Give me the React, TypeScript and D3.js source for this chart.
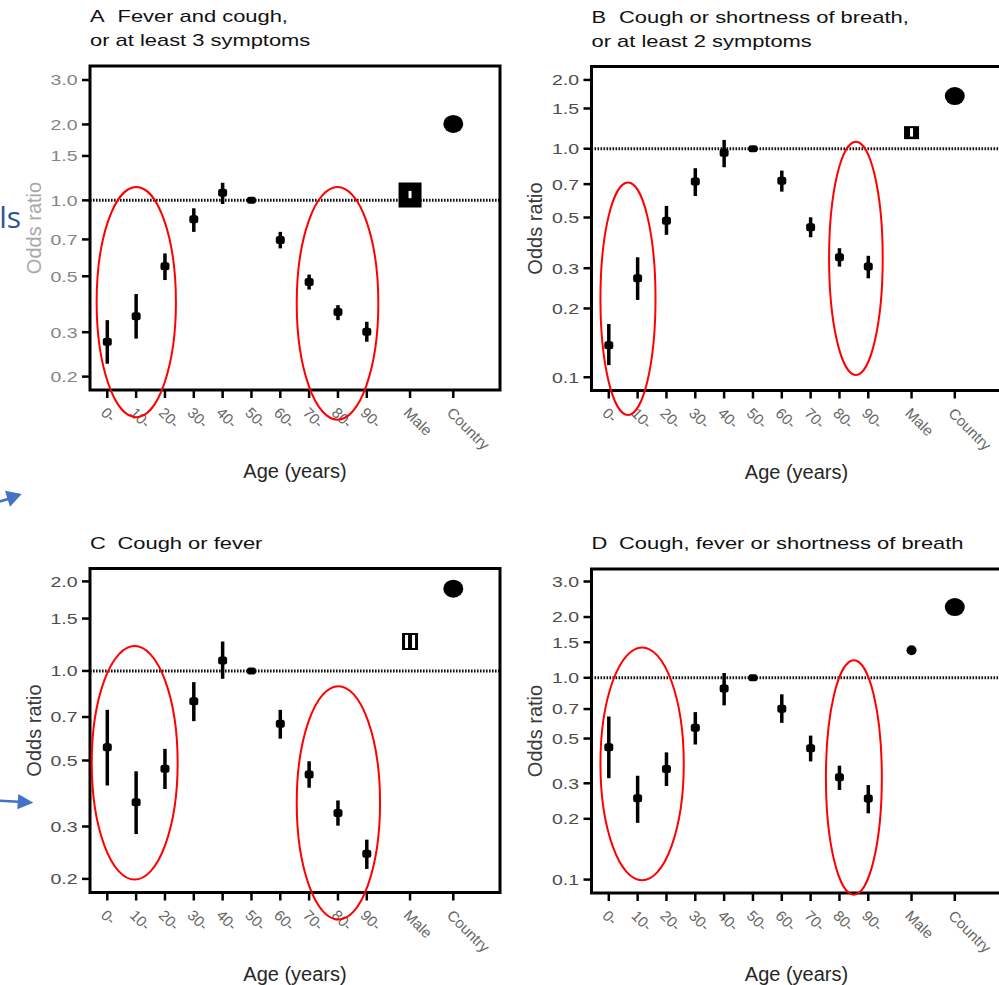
import React, { useEffect, useRef } from "react";
import * as d3 from "d3";

// categories on the x axis (ages, then sex and country)
const categories = ["0-", "10-", "20-", "30-", "40-", "50-", "60-", "70-", "80-", "90-", "Male", "Country"];

// A  Fever and cough, or at least 3 symptoms
const orA = [0.275, 0.347, 0.548, 0.841, 1.072, 1.0, 0.696, 0.475, 0.361, 0.301, 1.05, 2.01];
const loA = [0.225, 0.283, 0.483, 0.75, 0.967, null, 0.645, 0.443, 0.335, 0.275, 1.02, null];
const hiA = [0.335, 0.425, 0.616, 0.93, 1.174, null, 0.75, 0.508, 0.384, 0.33, 1.09, null];
const ticksA = [0.2, 0.3, 0.5, 0.7, 1.0, 1.5, 2.0, 3.0];
const domA = [0.177, 3.41];

// B  Cough or shortness of breath, or at least 2 symptoms
const orB = [0.138, 0.271, 0.484, 0.718, 0.961, 1.0, 0.725, 0.453, 0.335, 0.305, 1.176, 1.7];
const loB = [0.113, 0.218, 0.42, 0.621, 0.83, null, 0.649, 0.41, 0.305, 0.271, 1.13, null];
const hiB = [0.171, 0.335, 0.562, 0.822, 1.093, null, 0.802, 0.501, 0.367, 0.34, 1.23, null];
const ticksB = [0.1, 0.2, 0.3, 0.5, 0.7, 1.0, 1.5, 2.0];
const domB = [0.0875, 2.29];

// C  Cough or fever
const orC = [0.554, 0.362, 0.469, 0.791, 1.085, 1.0, 0.664, 0.449, 0.333, 0.243, 1.256, 1.89];
const loC = [0.412, 0.283, 0.401, 0.678, 0.941, null, 0.592, 0.405, 0.302, 0.216, 1.18, null];
const hiC = [0.74, 0.46, 0.547, 0.917, 1.256, null, 0.74, 0.497, 0.367, 0.271, 1.34, null];
const ticksC = [0.2, 0.3, 0.5, 0.7, 1.0, 1.5, 2.0];
const domC = [0.18, 2.21];

// D  Cough, fever or shortness of breath
const orD = [0.452, 0.253, 0.353, 0.565, 0.884, 1.0, 0.702, 0.447, 0.321, 0.252, 1.37, 2.24];
const loD = [0.318, 0.191, 0.291, 0.467, 0.73, null, 0.598, 0.385, 0.278, 0.213, null, null];
const hiD = [0.643, 0.327, 0.427, 0.676, 1.056, null, 0.828, 0.517, 0.367, 0.294, null, null];
const ticksD = [0.1, 0.2, 0.3, 0.5, 0.7, 1.0, 1.5, 2.0, 3.0];
const domD = [0.0858, 3.46];

// red ellipses drawn over the figure: [x from, x to (category units), OR top, OR bottom]
const ellA = [[-0.37, 2.38, 1.13, 0.138], [6.57, 9.4, 1.13, 0.135]];
const ellB = [[-0.29, 1.62, 0.711, 0.0684], [7.64, 9.5, 1.074, 0.1023]];
const ellC = [[-0.54, 2.44, 1.212, 0.199], [6.57, 9.46, 0.889, 0.146]];
const ellD = [[-0.29, 2.6, 1.414, 0.0992], [7.53, 9.47, 1.222, 0.0842]];

const FONT = "'Liberation Sans', Arial, Helvetica, sans-serif";
const W = 410, H = 324;

const panels = [
  { letter: "A", title: ["Fever and cough,", "or at least 3 symptoms"], or: orA, lo: loA, hi: hiA, ticks: ticksA, dom: domA, ell: ellA, ox: 90, oy: 66, male: "solid", mw: 23, mh: 25, faded: true },
  { letter: "B", title: ["Cough or shortness of breath,", "or at least 2 symptoms"], or: orB, lo: loB, hi: hiB, ticks: ticksB, dom: domB, ell: ellB, ox: 591.5, oy: 66.5, male: "solid", mw: 15, mh: 13, faded: false },
  { letter: "C", title: ["Cough or fever"], or: orC, lo: loC, hi: hiC, ticks: ticksC, dom: domC, ell: ellC, ox: 90, oy: 568.5, male: "hollow", mw: 16, mh: 17, faded: false },
  { letter: "D", title: ["Cough, fever or shortness of breath"], or: orD, lo: loD, hi: hiD, ticks: ticksD, dom: domD, ell: ellD, ox: 591.5, oy: 569, male: "dot", mw: 10, mh: 10, faded: false },
];

const catPos = (i: number) => (i < 10 ? i : i === 10 ? 10.5 : 12);

export default function App() {
  const ref = useRef<SVGSVGElement>(null);

  useEffect(() => {
    document.body.style.margin = "0";
    const svg = d3.select(ref.current);
    svg.selectAll("*").remove();

    const x = d3.scaleLinear().domain([-0.6, 13.62]).range([0, W]);

    panels.forEach((p) => {
      const y = d3.scaleLog().domain(p.dom).range([H, 0]);
      const g = svg.append("g").attr("transform", `translate(${p.ox},${p.oy})`);

      g.append("rect").attr("width", W).attr("height", H).attr("fill", "#fff");

      // reference line at OR = 1
      g.append("line")
        .attr("x1", 0).attr("x2", W)
        .attr("y1", y(1)).attr("y2", y(1))
        .attr("stroke", "#111").attr("stroke-width", 3)
        .attr("stroke-dasharray", "1.6 1.4");

      const rows = categories.map((c, i) => ({ c, i, or: p.or[i], lo: p.lo[i], hi: p.hi[i] }));

      // age groups: error bars + small squares
      const ages = rows.filter((d) => d.i < 10);
      g.selectAll(".ci").data(ages.filter((d) => d.lo != null))
        .enter().append("line")
        .attr("x1", (d) => x(catPos(d.i))).attr("x2", (d) => x(catPos(d.i)))
        .attr("y1", (d) => y(d.lo as number)).attr("y2", (d) => y(d.hi as number))
        .attr("stroke", "#000").attr("stroke-width", 3.5);
      g.selectAll(".pt").data(ages)
        .enter().append("rect")
        .attr("x", (d) => x(catPos(d.i)) - 4.5)
        .attr("y", (d) => y(d.or) - (d.i === 5 ? 3.5 : 4))
        .attr("width", 9).attr("height", (d) => (d.i === 5 ? 7 : 8))
        .attr("rx", 2.5)
        .attr("fill", "#000");

      // male marker
      const m = rows[10];
      const mx = x(catPos(10)), my = y(m.or);
      if (p.male === "dot") {
        g.append("circle").attr("cx", mx).attr("cy", my).attr("r", p.mw / 2).attr("fill", "#000");
      } else {
        g.append("rect").attr("x", mx - p.mw / 2).attr("y", my - p.mh / 2)
          .attr("width", p.mw).attr("height", p.mh).attr("fill", "#000");
        if (p.male === "hollow") {
          g.append("rect").attr("x", mx - p.mw / 2 + 3).attr("y", my - p.mh / 2 + 2)
            .attr("width", p.mw - 6).attr("height", p.mh - 4).attr("fill", "#fff");
        }
        g.append("line")
          .attr("x1", mx).attr("x2", mx)
          .attr("y1", y(m.lo as number)).attr("y2", y(m.hi as number))
          .attr("stroke", p.male === "hollow" ? "#000" : "#fff")
          .attr("stroke-width", p.male === "hollow" ? 4 : 3);
      }

      // country marker
      const ct = rows[11];
      g.append("ellipse")
        .attr("cx", x(catPos(11))).attr("cy", y(ct.or))
        .attr("rx", 10).attr("ry", 9).attr("fill", "#000");

      // frame
      g.append("rect").attr("width", W).attr("height", H)
        .attr("fill", "none").attr("stroke", "#000").attr("stroke-width", 3);

      // y axis ticks + labels
      const tickCol = p.faded ? "#858585" : "#4d4d4d";
      p.ticks.forEach((t) => {
        g.append("line").attr("x1", -8).attr("x2", 0)
          .attr("y1", y(t)).attr("y2", y(t))
          .attr("stroke", "#000").attr("stroke-width", 2.5);
        g.append("g")
          .attr("transform", `translate(-12.5,${y(t)}) scale(1.3,1)`)
          .append("text")
          .attr("text-anchor", "end").attr("dy", "0.36em")
          .attr("font-family", FONT).attr("font-size", 15)
          .attr("fill", tickCol)
          .text(d3.format(".1f")(t));
      });

      // x axis ticks + rotated labels
      categories.forEach((c, i) => {
        const tx = x(catPos(i));
        g.append("line").attr("x1", tx).attr("x2", tx)
          .attr("y1", H).attr("y2", H + 8)
          .attr("stroke", "#000").attr("stroke-width", 2.5);
        g.append("text")
          .attr("transform", `translate(${tx - 3.5},${H + 20}) rotate(45)`)
          .attr("dy", "0.35em")
          .attr("font-family", FONT).attr("font-size", 15)
          .attr("fill", "#666")
          .text(c);
      });

      // axis titles
      g.append("text")
        .attr("x", W / 2).attr("y", H + 88)
        .attr("text-anchor", "middle")
        .attr("font-family", FONT).attr("font-size", 20)
        .attr("fill", "#262626")
        .text("Age (years)");
      g.append("text")
        .attr("transform", `translate(-49.5,${H / 2}) rotate(-90)`)
        .attr("text-anchor", "middle")
        .attr("font-family", FONT).attr("font-size", 20)
        .attr("fill", p.faded ? "#a8a8a8" : "#3a3a3a")
        .text("Odds ratio");

      // panel title
      const n = p.title.length;
      p.title.forEach((line, k) => {
        const by = -20 - (n - 1 - k) * 24;
        if (k === 0) {
          g.append("g").attr("transform", `translate(0,${by}) scale(1.37,1)`)
            .append("text").attr("font-family", FONT).attr("font-size", 16)
            .attr("fill", "#111").text(p.letter);
        }
        g.append("g").attr("transform", `translate(${k === 0 ? 27.5 : 0},${by}) scale(1.37,1)`)
          .append("text").attr("font-family", FONT).attr("font-size", 16)
          .attr("fill", "#111").text(line);
      });

      // red ellipses
      p.ell.forEach(([a, b, top, bot]) => {
        g.append("ellipse")
          .attr("cx", (x(a) + x(b)) / 2).attr("cy", (y(top) + y(bot)) / 2)
          .attr("rx", (x(b) - x(a)) / 2).attr("ry", (y(bot) - y(top)) / 2)
          .attr("fill", "none").attr("stroke", "#ff0000").attr("stroke-width", 2);
      });
    });

    // leftover slide annotations (blue)
    svg.append("text").attr("x", 21).attr("y", 228)
      .attr("text-anchor", "end")
      .attr("font-family", "'Open Sans', 'Noto Sans', sans-serif").attr("font-size", 30)
      .attr("fill", "#2f5597").text("ls");
    svg.append("line").attr("x1", -2).attr("y1", 502).attr("x2", 10).attr("y2", 498.5)
      .attr("stroke", "#4472c4").attr("stroke-width", 2.5);
    svg.append("path").attr("d", "M21.7,494 L5,490.7 L10,506.7 Z").attr("fill", "#4472c4");
    svg.append("line").attr("x1", -2).attr("y1", 800.7).attr("x2", 19).attr("y2", 801.8)
      .attr("stroke", "#4472c4").attr("stroke-width", 2.5);
    svg.append("path").attr("d", "M33.3,802.7 L18.3,794 L17.3,809.3 Z").attr("fill", "#4472c4");
  }, []);

  return <svg ref={ref} width={999} height={985} style={{ display: "block", background: "#fff" }} />;
}
